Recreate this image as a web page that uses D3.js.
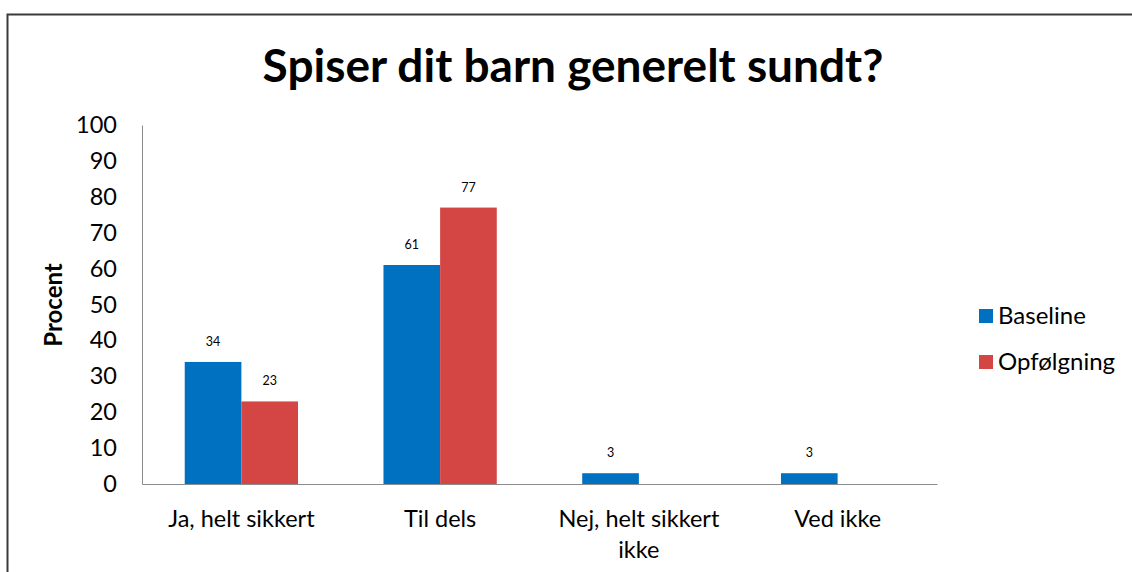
<!DOCTYPE html>
<html>
<head>
<meta charset="utf-8">
<script src="https://cdn.jsdelivr.net/npm/d3@7"></script>
<style>
  body { margin: 0; background: #fff; }
  text { font-family: Lato, "Open Sans", sans-serif; }
</style>
</head>
<body>
<svg id="chart" width="1132" height="572"></svg>
<script>
const categories = ["Ja, helt sikkert", "Til dels", "Nej, helt sikkert ikke", "Ved ikke"];
const seriesNames = ["Baseline", "Opfølgning"];
const baseline = [34, 61, 3, 3];
const opfolgning = [23, 77, 0, 0];
const yTicks = [0, 10, 20, 30, 40, 50, 60, 70, 80, 90, 100];
const colors = ["#0070c0", "#d34644"];

const svg = d3.select("#chart");
const margin = { top: 125, left: 142, right: 195, bottom: 88 };
const width = +svg.attr("width");
const height = +svg.attr("height");
const innerWidth = width - margin.left - margin.right;
const innerHeight = height - margin.top - margin.bottom;

// outer frame (only top and left edges are visible in the crop)
svg.append("path")
  .attr("d", `M7.5,${height} V14.5 H${width}`)
  .attr("fill", "none").attr("stroke", "#3a3a3a").attr("stroke-width", 2);

svg.append("text")
  .attr("x", 573).attr("y", 82)
  .attr("text-anchor", "middle")
  .style("font-size", "46px").style("font-weight", "bold")
  .text("Spiser dit barn generelt sundt?");

const x0 = d3.scaleBand().domain(categories).range([0, innerWidth]).paddingInner(0.43).paddingOuter(0.215);
const x1 = d3.scaleBand().domain(seriesNames).range([0, x0.bandwidth()]);
const y = d3.scaleLinear().domain([0, 100]).range([innerHeight, 0]);

const g = svg.append("g").attr("transform", `translate(${margin.left},${margin.top})`);

const yAxis = g.append("g").call(d3.axisLeft(y).tickValues(yTicks).tickSize(0).tickPadding(25));
yAxis.select(".domain").attr("stroke", "#8c8c8c");
yAxis.selectAll("text").style("font-size", "23.5px").attr("fill", "#000").style("font-family", "Lato, sans-serif");

const xAxis = g.append("g").attr("transform", `translate(0,${innerHeight})`)
  .call(d3.axisBottom(x0).tickSize(0).tickFormat(""));
xAxis.select(".domain").attr("stroke", "#8c8c8c");

// category labels, wrapped like the original
const wrapped = { "Nej, helt sikkert ikke": ["Nej, helt sikkert", "ikke"] };
categories.forEach(c => {
  const lines = wrapped[c] || [c];
  const t = g.append("text")
    .attr("x", x0(c) + x0.bandwidth() / 2)
    .attr("y", innerHeight + 43)
    .attr("text-anchor", "middle")
    .style("font-size", "23.5px");
  lines.forEach((l, i) => t.append("tspan").attr("x", x0(c) + x0.bandwidth() / 2).attr("dy", i ? 31 : 0).text(l));
});

const data = categories.map((c, i) => ({ cat: c, vals: [baseline[i], opfolgning[i]] }));

const groups = g.selectAll(".grp").data(data).enter().append("g")
  .attr("transform", d => `translate(${x0(d.cat)},0)`);

groups.selectAll("rect")
  .data(d => d.vals.map((v, i) => ({ key: seriesNames[i], v, i })))
  .enter().append("rect")
  .attr("x", d => x1(d.key))
  .attr("y", d => y(d.v))
  .attr("width", x1.bandwidth())
  .attr("height", d => innerHeight - y(d.v))
  .attr("fill", d => colors[d.i]);

groups.selectAll(".lbl")
  .data(d => d.vals.map((v, i) => ({ key: seriesNames[i], v, i })).filter(d => d.v > 0))
  .enter().append("text")
  .attr("x", d => x1(d.key) + x1.bandwidth() / 2)
  .attr("y", d => y(d.v) - 16)
  .attr("text-anchor", "middle")
  .style("font-size", "12.5px")
  .text(d => d.v);

// y axis title
svg.append("text")
  .attr("transform", "translate(62,305) rotate(-90)")
  .attr("text-anchor", "middle")
  .style("font-size", "24px").style("font-weight", "bold")
  .text("Procent");

// legend
const legend = svg.append("g").attr("transform", "translate(979,309)");
seriesNames.forEach((s, i) => {
  legend.append("rect").attr("x", 0).attr("y", i * 46).attr("width", 14).attr("height", 14).attr("fill", colors[i]);
  legend.append("text").attr("x", 19).attr("y", i * 46 + 15).style("font-size", "24px").text(s);
});
</script>
</body>
</html>
